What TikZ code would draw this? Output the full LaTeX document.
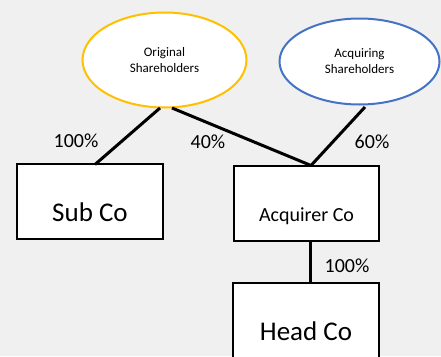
\documentclass[tikz,border=0pt]{standalone}
\usepackage{fontspec}
\setmainfont{Carlito}
\usetikzlibrary{shapes.geometric}
\definecolor{bg}{HTML}{F0F0F0}
\definecolor{orangeline}{HTML}{FFC000}
\definecolor{blueline}{HTML}{4472C4}
\tikzset{
  owner/.style={ellipse, fill=white, line width=2pt, inner sep=0pt, align=center, font=\fontsize{13}{16}\selectfont},
  company/.style={rectangle, draw=black, fill=white, line width=1.6pt, inner sep=0pt, text height=0pt, text depth=0pt},
  link/.style={line width=3pt, black},
  pct/.style={font=\fontsize{20}{24}\selectfont, inner sep=0pt}
}
\begin{document}
\begin{tikzpicture}[x=1pt,y=-1pt]
\useasboundingbox[fill=bg] (0,0) rectangle (441,356);
\node[owner, draw=orangeline, minimum width=164pt, minimum height=95pt] (orig) at (164.5,60) {Original\\Shareholders};
\node[owner, draw=blueline, minimum width=160pt, minimum height=86pt] (acqsh) at (359.5,61.5) {Acquiring\\Shareholders};
\node[company, minimum width=146pt, minimum height=75pt, font=\fontsize{27}{30}\selectfont] (sub) at (90,201.5) {\raisebox{-19.5pt}{Sub Co}};
\node[company, minimum width=145pt, minimum height=75pt, font=\fontsize{20}{24}\selectfont] (acq) at (306.5,203.5) {\raisebox{-18pt}{Acquirer Co}};
\node[company, minimum width=146pt, minimum height=100pt, font=\fontsize{27}{30}\selectfont] (head) at (306,333) {\raisebox{-7pt}{Head Co}};
\coordinate (o1) at (160,108);
\coordinate (o2) at (172,108);
\coordinate (a1) at (365,107);
\coordinate (s1) at (95,164.5);
\coordinate (q1) at (311,165.5);
\draw[link] (o1) -- (s1);
\draw[link] (o2) -- (q1);
\draw[link] (a1) -- (q1);
\draw[link] (acq.south -| 310,0) -- (head.north -| 310,0);
\node[pct] (p1) at (76,141) {100\%};
\node[pct] (p2) at (208,142) {40\%};
\node[pct] (p3) at (372,142) {60\%};
\node[pct] (p4) at (347,266) {100\%};
\end{tikzpicture}
\end{document}
